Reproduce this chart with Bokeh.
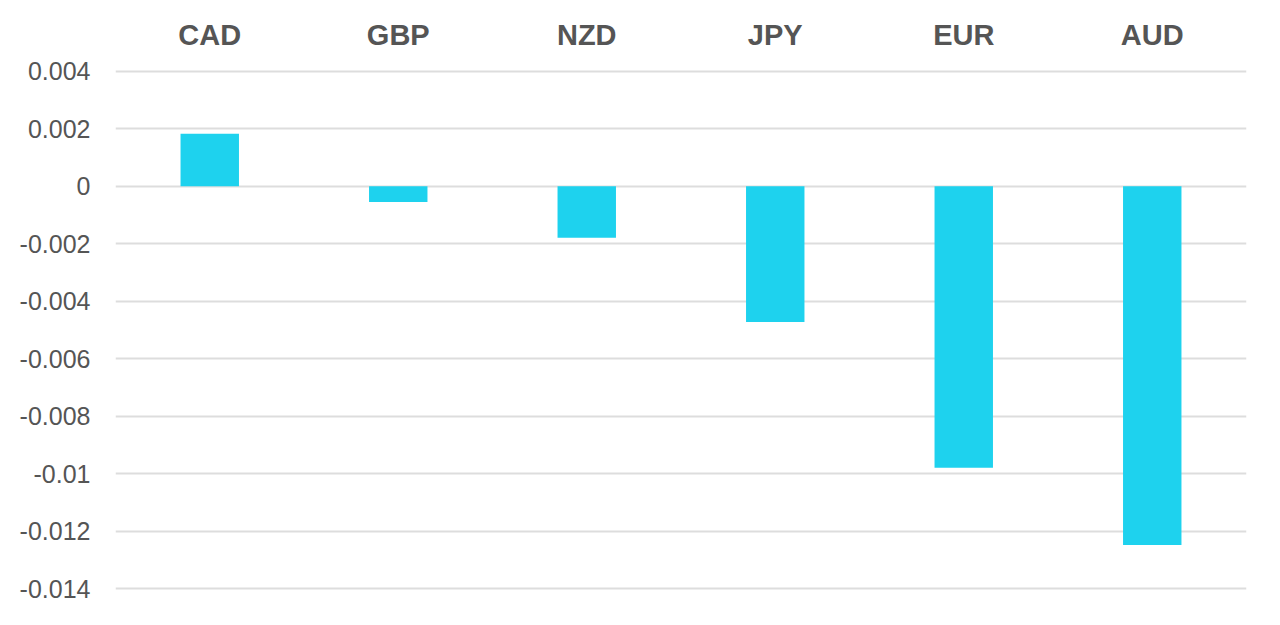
from bokeh.plotting import figure
from bokeh.models import Range1d, FixedTicker, CustomJSTickFormatter
from bokeh.embed import file_html
from bokeh.resources import INLINE

currencies = ["CAD", "GBP", "NZD", "JPY", "EUR", "AUD"]
values = [0.00183, -0.00055, -0.00179, -0.00472, -0.00979, -0.01248]
y_ticks = [0.004, 0.002, 0, -0.002, -0.004, -0.006, -0.008, -0.01, -0.012, -0.014]

p = figure(x_range=currencies, width=1264, height=609, output_backend="svg",
           toolbar_location=None, x_axis_location="above",
           y_range=Range1d(-0.0141, 0.0041))
p.min_border_left = 115
p.min_border_right = 18
p.min_border_top = 68
p.min_border_bottom = 18
p.outline_line_color = None
p.background_fill_color = "white"

p.vbar(x=currencies, top=values, bottom=0, width=0.31, fill_color="#1ed2ee",
       line_color=None)

font = "Liberation Sans"
xa = p.xaxis[0]
xa.axis_line_color = None
xa.major_tick_line_color = None
xa.minor_tick_line_color = None
xa.major_label_text_font = font
xa.major_label_text_font_size = "29px"
xa.major_label_text_font_style = "bold"
xa.major_label_text_color = "#555555"
xa.major_label_standoff = 12

ya = p.yaxis[0]
ya.ticker = FixedTicker(ticks=y_ticks)
ya.formatter = CustomJSTickFormatter(code="return Math.abs(tick) < 1e-12 ? '0' : String(Math.round(tick*1000)/1000);")
ya.axis_line_color = None
ya.major_tick_line_color = None
ya.minor_tick_line_color = None
ya.major_label_text_font = font
ya.major_label_text_font_size = "25px"
ya.major_label_text_color = "#555555"
ya.major_label_standoff = 19

p.xgrid.grid_line_color = None
p.ygrid.ticker = FixedTicker(ticks=y_ticks)
p.ygrid.grid_line_color = "#dddddd"
p.ygrid.grid_line_width = 2

open("out.html", "w").write(file_html(p, INLINE))
